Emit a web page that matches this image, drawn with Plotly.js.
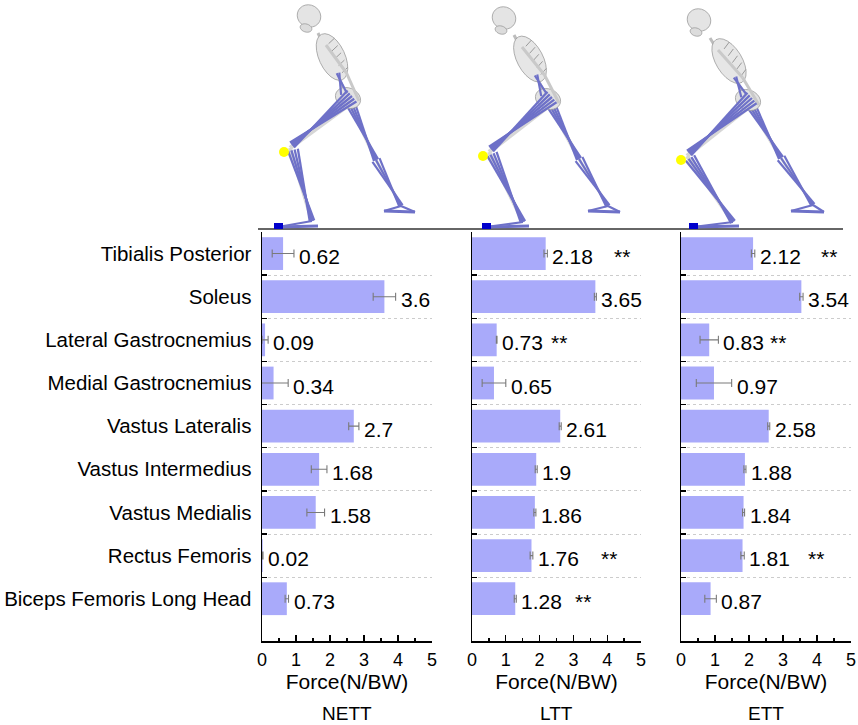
<!DOCTYPE html>
<html><head><meta charset="utf-8">
<script src="https://cdn.plot.ly/plotly-3.0.1.min.js"></script>
<style>html,body{margin:0;padding:0;background:#fff}</style>
</head><body><div id="chart" style="width:858px;height:725px"></div>
<script>
// ---------------- data ----------------
const muscles = ['Tibialis Posterior','Soleus','Lateral Gastrocnemius','Medial Gastrocnemius','Vastus Lateralis','Vastus Intermedius','Vastus Medialis','Rectus Femoris','Biceps Femoris Long Head'];
const panelNames = ['NETT','LTT','ETT'];
const nettForce = [0.62,3.6,0.09,0.34,2.7,1.68,1.58,0.02,0.73];
const nettErr   = [0.32,0.33,0.09,0.43,0.15,0.23,0.26,0.01,0.05];
const lttForce  = [2.18,3.65,0.73,0.65,2.61,1.9,1.86,1.76,1.28];
const lttErr    = [0.05,0.03,0.01,0.35,0.03,0.03,0.03,0.04,0.03];
const ettForce  = [2.12,3.54,0.83,0.97,2.58,1.88,1.84,1.81,0.87];
const ettErr    = [0.05,0.05,0.27,0.52,0.03,0.03,0.03,0.05,0.17];
const nettSig = ['','','','','','','','',''];
const lttSig  = ['**','','**','','','','','**','**'];
const ettSig  = ['**','','**','','','','','**',''];
const xTickVals = [0,1,2,3,4,5];
const xTitle = 'Force(N/BW)';

// ---------------- layout helpers ----------------
const W = 858, H = 725;
const FONT = 'Liberation Sans, Arial, sans-serif';
const BAR = '#a9aafa';
const px2x = p => p / W;
const px2y = p => 1 - p / H;
const panelX0 = [262, 472, 681];   // pixel of x=0
const panelX5 = [432, 641, 851];   // pixel of x=5
const yTop = 232, yBot = 641;
// star x positions (layout placement of significance marks)
const starX = [
  [null,null,null,null,null,null,null,null,null],
  [4.43,null,2.57,null,null,null,null,4.06,3.29],
  [4.34,null,2.84,null,null,null,null,3.96,null]
];

const forces = [nettForce, lttForce, ettForce];
const errs = [nettErr, lttErr, ettErr];
const sigs = [nettSig, lttSig, ettSig];

const traces = [];
const layout = {
  width: W, height: H,
  margin: {l:0, r:0, t:0, b:0},
  paper_bgcolor: '#fff', plot_bgcolor: 'rgba(0,0,0,0)',
  showlegend: false,
  font: {family: FONT, color: '#000'},
  annotations: [], shapes: [],
  bargap: 0.24
};

for (let p = 0; p < 3; p++) {
  const s = p === 0 ? '' : String(p + 1);
  traces.push({
    type: 'bar', orientation: 'h',
    x: forces[p], y: muscles,
    xaxis: 'x' + s, yaxis: 'y' + s,
    width: 0.76,
    marker: {color: BAR, line: {width: 0}},
    error_x: {type: 'data', array: errs[p], visible: true, color: '#7a7a7a', thickness: 1.1, width: 4},
    hoverinfo: 'skip'
  });
  layout['xaxis' + s] = {
    domain: [px2x(panelX0[p]), px2x(panelX5[p])],
    anchor: 'y' + s,
    range: [0, 5],
    tickmode: 'array', tickvals: xTickVals,
    ticks: 'inside', ticklen: 6, tickwidth: 1.3, tickcolor: '#000',
    minor: {ticks: 'inside', ticklen: 3.5, tickwidth: 1.3, tickcolor: '#000', dtick: 0.5, tick0: 0, showgrid: false},
    showline: true, linecolor: '#000', linewidth: 1.5,
    showgrid: false, zeroline: false,
    tickfont: {size: 18, family: FONT, color: '#000'},
    ticklabelstandoff: 2,
    title: {text: xTitle, font: {size: 21, family: FONT, color: '#000'}, standoff: 2},
    fixedrange: true
  };
  layout['yaxis' + s] = {
    domain: [px2y(yBot), px2y(yTop)],
    anchor: 'x' + s,
    type: 'category', categoryorder: 'array', categoryarray: muscles,
    range: [8.98, -0.5],
    tickson: 'boundaries',
    ticks: 'inside', ticklen: 5, tickwidth: 1.3, tickcolor: '#000',
    showline: true, linecolor: '#000', linewidth: 1.5,
    showgrid: true, gridcolor: '#cccccc', griddash: 'dot', gridwidth: 1,
    zeroline: false,
    showticklabels: p === 0,
    tickfont: {size: 20.5, family: FONT, color: '#000'},
    ticklabelstandoff: 5,
    fixedrange: true
  };
  // value labels
  for (let i = 0; i < muscles.length; i++) {
    layout.annotations.push({
      xref: 'x' + s, yref: 'y' + s,
      x: forces[p][i] + errs[p][i], y: muscles[i],
      text: String(forces[p][i]),
      xanchor: 'left', yanchor: 'middle', xshift: 3, yshift: -3,
      showarrow: false,
      font: {size: 21, family: FONT, color: '#000'}
    });
    if (sigs[p][i]) {
      layout.annotations.push({
        xref: 'x' + s, yref: 'y' + s,
        x: starX[p][i], y: muscles[i],
        text: sigs[p][i],
        xanchor: 'center', yanchor: 'middle', yshift: -3,
        showarrow: false,
        font: {size: 21, family: FONT, color: '#000'}
      });
    }
  }
  // panel name
  layout.annotations.push({
    xref: 'paper', yref: 'paper',
    x: px2x((panelX0[p] + panelX5[p]) / 2), y: px2y(713),
    text: panelNames[p], xanchor: 'center', yanchor: 'middle',
    showarrow: false, font: {size: 19, family: FONT, color: '#000'}
  });
}

// ground line above the panels
layout.shapes.push({type: 'line', xref: 'paper', yref: 'paper',
  x0: px2x(258), x1: px2x(843), y0: px2y(229), y1: px2y(229),
  line: {color: '#333', width: 1.5}});

// ---------------- decorative skeleton sketches ----------------
const poses = [
  {head:[47,16], neck:[56,33], chest:[70,57], pelvis:[86,98], hand:[97,101], fKnee:[28,148], fAnkle:[50,221], fToe:[16,227], fHeel:[56,226], bKnee:[114,160], bAnkle:[139,206], bToe:[153,212], bHeel:[122,211]},
  {head:[32,18], neck:[42,35], chest:[58,59], pelvis:[76,99], hand:[87,103], fKnee:[17,152], fAnkle:[51,222], fToe:[14,227], fHeel:[57,226], bKnee:[107,159], bAnkle:[136,206], bToe:[148,212], bHeel:[116,211]},
  {head:[18,20], neck:[29,38], chest:[48,61], pelvis:[67,100], hand:[78,105], fKnee:[6,156], fAnkle:[52,222], fToe:[12,227], fHeel:[58,226], bKnee:[100,158], bAnkle:[132,205], bToe:[143,212], bHeel:[110,211]}
];
const MUS = '#6e71c8', BONE = '#d6d6d6', BONE_EDGE = '#9a9a9a';
function addLine(x0, a, b, color, width) {
  layout.shapes.push({type: 'line', xref: 'paper', yref: 'paper', layer: 'above',
    x0: px2x(x0 + a[0]), y0: px2y(a[1]), x1: px2x(x0 + b[0]), y1: px2y(b[1]),
    line: {color: color, width: width}});
}
function addBundle(x0, a, b, n, spread, color, width) {
  const dx = b[0]-a[0], dy = b[1]-a[1], L = Math.hypot(dx, dy) || 1;
  const nx = -dy / L, ny = dx / L;
  for (let k = 0; k < n; k++) {
    const t = n === 1 ? 0 : (k / (n - 1) - 0.5) * 2;
    const ta = t * spread, tb = -t * spread * 0.45;
    addLine(x0, [a[0] + nx*ta, a[1] + ny*ta], [b[0] + nx*tb, b[1] + ny*tb], color, width);
  }
}
function addEllipse(x0, c, rx, ry, ang, fill, edge) {
  let d = '';
  for (let k = 0; k <= 24; k++) {
    const t = k / 24 * 2 * Math.PI;
    const ex = rx * Math.cos(t), ey = ry * Math.sin(t);
    const X = c[0] + ex * Math.cos(ang) - ey * Math.sin(ang);
    const Y = c[1] + ex * Math.sin(ang) + ey * Math.cos(ang);
    d += (k === 0 ? 'M' : 'L') + px2x(x0 + X).toFixed(5) + ',' + px2y(Y).toFixed(5);
  }
  d += 'Z';
  layout.shapes.push({type: 'path', xref: 'paper', yref: 'paper', layer: 'above', path: d,
    fillcolor: fill, line: {color: edge, width: 0.8}});
}
for (let p = 0; p < 3; p++) {
  const x0 = panelX0[p], P = poses[p];
  const hip = [P.pelvis[0] + 2, P.pelvis[1] + 6];
  // back leg
  addLine(x0, hip, P.bKnee, BONE, 4);
  addLine(x0, P.bKnee, P.bAnkle, BONE, 3);
  addBundle(x0, [hip[0]-2, hip[1]-6], P.bKnee, 4, 5, MUS, 2.2);
  addBundle(x0, P.bKnee, P.bAnkle, 3, 4, MUS, 2.2);
  addLine(x0, P.bHeel, P.bToe, MUS, 3);
  addLine(x0, P.bAnkle, P.bToe, MUS, 2.2);
  addLine(x0, P.bHeel, P.bAnkle, MUS, 2.2);
  // torso
  const ang = Math.atan2(P.pelvis[1] - P.neck[1], P.pelvis[0] - P.neck[0]);
  addLine(x0, P.neck, P.pelvis, '#bdbdbd', 3);
  addEllipse(x0, P.chest, 25, 13, ang, '#e6e6e6', BONE_EDGE);
  for (let r = -2; r <= 2; r++) {
    const cx = P.chest[0] + Math.cos(ang) * r * 8, cy = P.chest[1] + Math.sin(ang) * r * 8;
    addLine(x0, [cx - Math.sin(ang) * -10, cy + Math.cos(ang) * -10], [cx + Math.sin(ang) * -3 + 6, cy - Math.cos(ang) * -3], '#9a9a9a', 1);
  }
  addEllipse(x0, P.pelvis, 13, 10, 0.4, '#e2e2e2', BONE_EDGE);
  addBundle(x0, [P.pelvis[0] - 4, P.pelvis[1] - 4], [P.chest[0] + 6, P.chest[1] + 16], 2, 3, MUS, 2.2);
  // arm
  const sh = [P.neck[0] + 8, P.neck[1] + 12];
  const el = [(sh[0] + P.hand[0]) / 2 + 4, (sh[1] + P.hand[1]) / 2];
  addLine(x0, sh, el, '#c9c9c9', 3);
  addLine(x0, el, P.hand, '#c9c9c9', 3);
  // skull
  addEllipse(x0, P.head, 12, 11, 0.5, '#e4e4e4', BONE_EDGE);
  addEllipse(x0, [P.head[0] - 3, P.head[1] + 12], 6, 4, 0.3, '#dcdcdc', BONE_EDGE);
  // front leg
  addLine(x0, hip, P.fKnee, BONE, 4.5);
  addLine(x0, P.fKnee, P.fAnkle, BONE, 4);
  addBundle(x0, [hip[0]+2, hip[1]-8], [P.fKnee[0]+2, P.fKnee[1]-3], 5, 7, MUS, 2.3);
  addBundle(x0, [P.fKnee[0]+3, P.fKnee[1]+2], P.fAnkle, 4, 5, MUS, 2.3);
  addLine(x0, P.fHeel, P.fToe, MUS, 3);
  addLine(x0, P.fAnkle, P.fToe, MUS, 2.2);
  // knee marker and foot marker
  layout.shapes.push({type: 'circle', xref: 'paper', yref: 'paper', layer: 'above',
    x0: px2x(x0 + P.fKnee[0] - 11), x1: px2x(x0 + P.fKnee[0] - 1),
    y0: px2y(P.fKnee[1] + 9), y1: px2y(P.fKnee[1] - 1),
    fillcolor: '#ffff00', line: {width: 0}});
  layout.shapes.push({type: 'rect', xref: 'paper', yref: 'paper', layer: 'above',
    x0: px2x(x0 + P.fToe[0] - 4), x1: px2x(x0 + P.fToe[0] + 5),
    y0: px2y(229), y1: px2y(223),
    fillcolor: '#0000cc', line: {width: 0}});
}

Plotly.newPlot('chart', traces, layout, {displayModeBar: false, staticPlot: true});
</script>
</body></html>
